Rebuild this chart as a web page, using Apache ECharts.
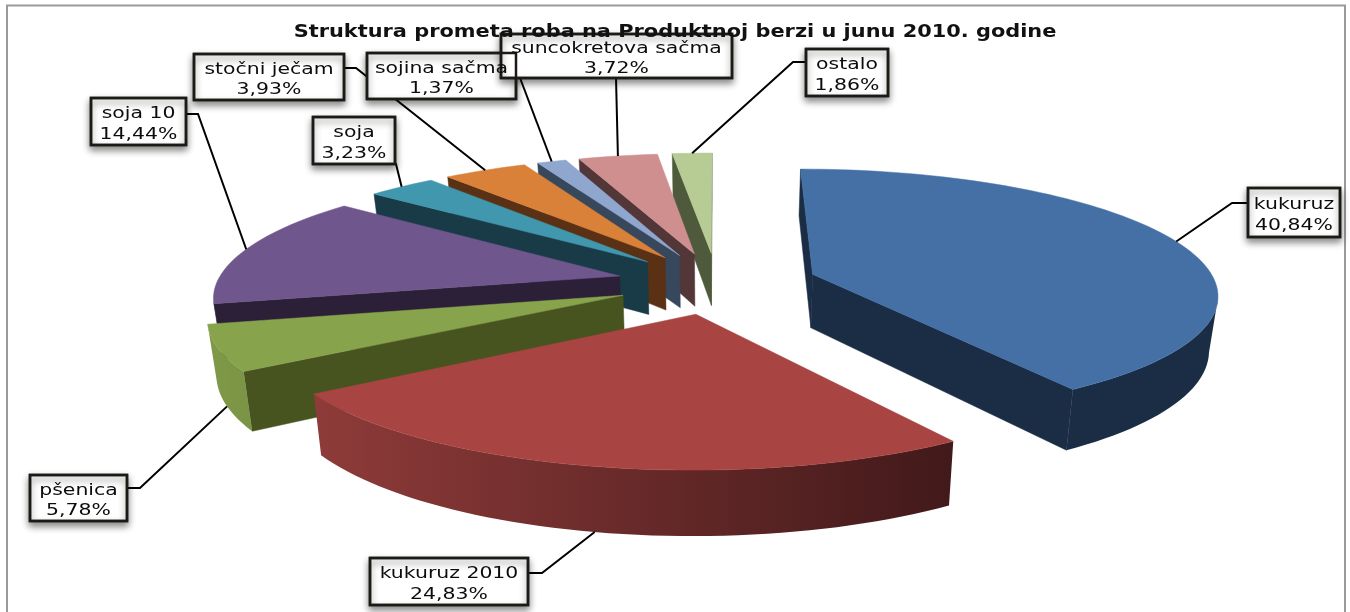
<!DOCTYPE html>
<html><head><meta charset="utf-8">
<style>html,body{margin:0;padding:0;background:#fff}#c{width:1350px;height:612px}</style>
<script src="https://cdn.jsdelivr.net/npm/echarts@6/dist/echarts.min.js"></script>
</head><body><div id="c"></div>
<script>
const chartTitle = 'Struktura prometa roba na Produktnoj berzi u junu 2010. godine';
const categories = ['kukuruz','kukuruz 2010','pšenica','soja 10','soja','stočni ječam','sojina sačma','suncokretova sačma','ostalo'];
const values = [40.84,24.83,5.78,14.44,3.23,3.93,1.37,3.72,1.86];
const topColors = ['#4470A6','#A84442','#87A34C','#6F578D','#4097AE','#D98138','#8FA6CE','#CF8F8E','#B7CC94'];
const sideColors = ['#1A2D45','#42191A','#47541F','#2C2038','#193B48','#5A3114','#37475C','#533638','#4F5A3C'];
const rimColors = [['#1A2D45','#1A2D45'],['#8E3B39','#42191A'],['#7F9A48','#7A9345'],['#2C2038','#2C2038'],['#193B48','#193B48'],['#5A3114','#5A3114'],['#37475C','#37475C'],['#533638','#533638'],['#4F5A3C','#4F5A3C']];
// label boxes: [left, top, right, bottom, elbowX, elbowY, boxAnchorX, boxAnchorY]
const labelBoxes = [
 [1248,188,1340,237,1232,203,1248,203],
 [370,558,528,605,542,573,528,573],
 [30,475,127,521,140,488,127,488],
 [91,98,186,145,198,114,186,114],
 [313,117,395,164,396,164,395,164],
 [194,54,344,100,356,68,344,68],
 [367,53,516,99,517,70,517,70],
 [501,34,732,78,616,78,616,78],
 [806,49,888,96,793,62,806,62]
];
const view = {cx:717, cy:283, R:403, H:123, k:0.146, explode:0.25, depth:54, shrink:0.982};

const total = values.reduce((a,b)=>a+b,0);
const angles = []; { let a = 0; values.forEach(v=>{ const s=a, e=a+v/total*Math.PI*2; angles.push([s,e]); a=e; }); }
function project(wx, wy, low){
  const s = 1/(1+view.k*wy);
  let x = view.cx+view.R*wx*s, y = view.cy-view.H*wy*s;
  if(low){ x = view.cx+(x-view.cx)*view.shrink; y += view.depth*s; }
  return [x,y];
}
function slicePoint(i, th, r, low){
  const m=(angles[i][0]+angles[i][1])/2;
  return project(view.explode*Math.sin(m)+r*Math.sin(th), view.explode*Math.cos(m)+r*Math.cos(th), low);
}
function sliceItem(params, api){
  const i = api.value(0), a0 = angles[i][0], a1 = angles[i][1], m=(a0+a1)/2;
  const n = Math.max(4, Math.round((a1-a0)/0.03));
  const top=[slicePoint(i,0,0,false)], arc=[];
  for(let j=0;j<=n;j++){ const th=a0+(a1-a0)*j/n; arc.push(th); top.push(slicePoint(i,th,1,false)); }
  const base = Math.round((-Math.cos(m)+1)*1000);
  const kids=[];
  const A=slicePoint(i,0,0,false), Al=slicePoint(i,0,0,true), Mid=slicePoint(i,m,1,false);
  [a0,a1].forEach(th=>{
    const B=slicePoint(i,th,1,false), Bl=slicePoint(i,th,1,true);
    // a radial wall shows only when the slice top lies above its edge
    const dx=B[0]-A[0], dy=B[1]-A[1];
    const yEdge = Math.abs(dx)>1e-6 ? A[1]+dy*(Mid[0]-A[0])/dx : null;
    if(yEdge!==null && Mid[1]<yEdge){
      kids.push({type:'polygon',z2:base+1,shape:{points:[A,B,Bl,Al]},style:{fill:sideColors[i],stroke:sideColors[i],lineWidth:0.5}});
    }
  });
  // outer rim: only the segments running right to left face the viewer
  let run=[];
  const flush=()=>{
    if(run.length>1){
      const up=run.map(t=>slicePoint(i,t,1,false)), dn=run.map(t=>slicePoint(i,t,1,true)).reverse();
      kids.push({type:'polygon',z2:base+2,shape:{points:up.concat(dn)},style:{
        fill:new echarts.graphic.LinearGradient(1,0,0,0,[{offset:0,color:rimColors[i][1]},{offset:1,color:rimColors[i][0]}]),lineWidth:0}});
    }
    run=[];
  };
  for(let j=0;j<n;j++){
    const p=slicePoint(i,arc[j],1,false), q=slicePoint(i,arc[j+1],1,false);
    if(q[0]<p[0]){ if(!run.length) run.push(arc[j]); run.push(arc[j+1]); } else flush();
  }
  flush();
  kids.push({type:'polygon',z2:base+3,shape:{points:top},style:{fill:topColors[i],stroke:topColors[i],lineWidth:0.5}});
  return {type:'group',children:kids};
}
function labelItem(params, api){
  const i = api.value(0), b = labelBoxes[i], m=(angles[i][0]+angles[i][1])/2;
  const front = Math.cos(m) < -0.2;
  const tip = slicePoint(i,m,1,front);
  const name = categories[i], pct = api.value(1).toFixed(2).replace('.',',')+'%';
  const mx=(b[0]+b[2])/2, h=b[3]-b[1];
  const txt=(s,y)=>({type:'text',x:mx,y:y,scaleX:1.36,z2:7000,style:{text:s,x:0,y:0,align:'center',verticalAlign:'middle',font:'15px "DejaVu Sans"',fill:'#0c0c0c'}});
  const box={x:b[0],y:b[1],width:b[2]-b[0],height:h};
  return {type:'group',children:[
    {type:'polyline',z2:5000,shape:{points:[[b[6],b[7]],[b[4],b[5]],tip]},style:{stroke:'#000',lineWidth:2,fill:null}},
    {type:'rect',z2:6000+i,shape:box,style:{fill:'#fff',stroke:'#1C1A14',lineWidth:2.5,shadowBlur:7,shadowOffsetY:4,shadowOffsetX:0,shadowColor:'rgba(0,0,0,0.45)'}},
    {type:'rect',z2:6900,shape:box,style:{fill:null,stroke:'#1C1A14',lineWidth:2.5}},
    txt(name,b[1]+h*0.30+2),
    txt(pct,b[1]+h*0.72+3)
  ]};
}
const chart = echarts.init(document.getElementById('c'),null,{renderer:'canvas'});
chart.setOption({
  animation:false,
  backgroundColor:'#fff',
  graphic:[
    {type:'polyline',z:1,shape:{points:[[7,612],[7,5.5],[1345,5.5],[1345,612]]},style:{stroke:'#9a9a9a',lineWidth:2,fill:null}},
    {type:'text',z:20,x:675,y:32,scaleX:1.16,style:{text:chartTitle,x:0,y:0,align:'center',verticalAlign:'middle',font:'bold 18px "DejaVu Sans"',fill:'#111'}}
  ],
  series:[
   {type:'custom',coordinateSystem:'none',z:5,silent:true,data:values.map((v,i)=>[i,v]),renderItem:sliceItem,clip:false},
   {type:'custom',coordinateSystem:'none',z:6,silent:true,data:values.map((v,i)=>[i,v]),renderItem:labelItem,clip:false}
  ]
});
</script></body></html>
